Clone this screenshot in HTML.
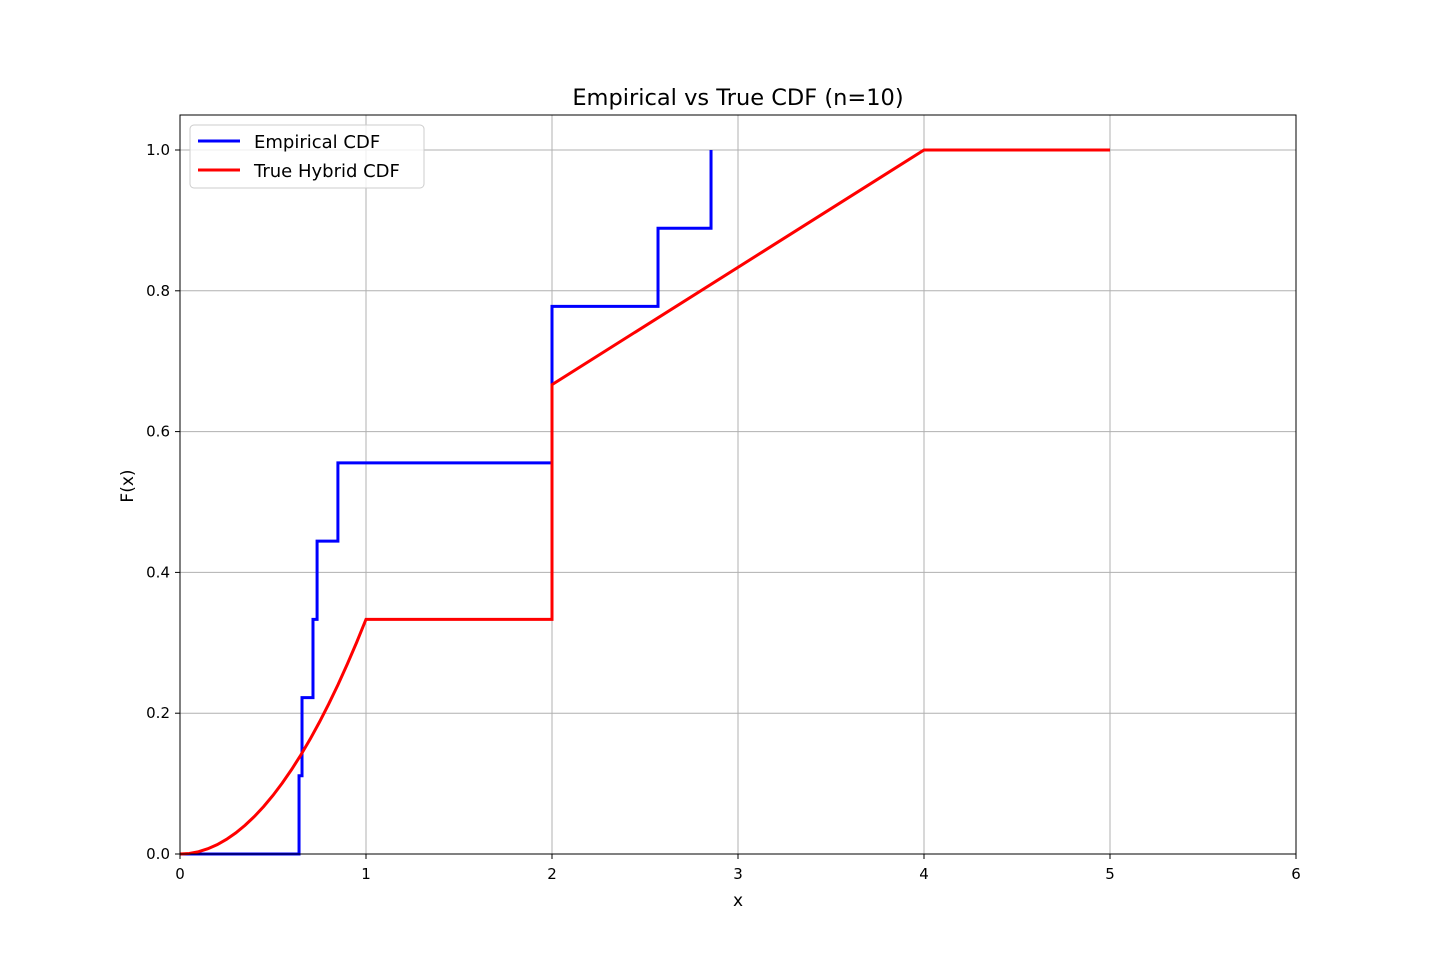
<!DOCTYPE html>
<html><head><meta charset="utf-8"><style>
html,body{margin:0;padding:0;background:#fff;}
svg{display:block;font-family:"DejaVu Sans","Liberation Sans",sans-serif;}
</style></head><body>
<svg id="chart" width="1440" height="960" xmlns="http://www.w3.org/2000/svg">
<rect x="0" y="0" width="1440" height="960" fill="#fff"/>
<g id="grid"></g>
<g id="series"></g>
<rect x="180" y="115" width="1116" height="739" fill="none" stroke="#000" stroke-width="1"/>
<g id="ticks"></g>
<text x="738" y="105" text-anchor="middle" font-size="22.5">Empirical vs True CDF (n=10)</text>
<text x="738" y="906" text-anchor="middle" font-size="17">x</text>
<text x="133" y="486" text-anchor="middle" font-size="17" transform="rotate(-90 133 486)">F(x)</text>
<g>
<rect x="190" y="125" width="234" height="63" rx="4" fill="#fff" fill-opacity="0.8" stroke="#ccc"/>
<line x1="198" y1="141" x2="240" y2="141" stroke="#0000ff" stroke-width="3"/>
<text x="254" y="148" font-size="18">Empirical CDF</text>
<line x1="198" y1="170" x2="240" y2="170" stroke="#ff0000" stroke-width="3"/>
<text x="254" y="177" font-size="18">True Hybrid CDF</text>
</g>
</svg>
<script>
const xTicks=[0,1,2,3,4,5,6];
const yTicks=[0,0.2,0.4,0.6,0.8,1.0];
const yTickLabels=["0.0","0.2","0.4","0.6","0.8","1.0"];
const empX=[0,0.64,0.656,0.715,0.737,0.849,2.0,2.57,2.855];
const empY=[0,0.1111,0.2222,0.3333,0.4444,0.5556,0.7778,0.8889,1.0];
const trueX=[0,0.05,0.1,0.15,0.2,0.25,0.3,0.35,0.4,0.45,0.5,0.55,0.6,0.65,0.7,0.75,0.8,0.85,0.9,0.95,1.0,2.0,2.0,4.0,5.0];
const trueY=[0,0.0008,0.0033,0.0075,0.0133,0.0208,0.03,0.0408,0.0533,0.0675,0.0833,0.1008,0.12,0.1408,0.1633,0.1875,0.2133,0.2408,0.27,0.3008,0.3333,0.3333,0.6667,1.0,1.0];
const NS="http://www.w3.org/2000/svg";
const sx=v=>180+v*186, sy=v=>854-v*704;
const grid=document.getElementById('grid'), ticks=document.getElementById('ticks'), series=document.getElementById('series');
function mk(tag,attrs,parent){const e=document.createElementNS(NS,tag);for(const k in attrs)e.setAttribute(k,attrs[k]);parent.appendChild(e);return e;}
xTicks.forEach(t=>{
 const g=mk('line',{x1:sx(t),x2:sx(t),y1:115,y2:854,stroke:'#b0b0b0','stroke-width':1},grid);
 
 
 const tk=mk('line',{x1:sx(t),x2:sx(t),y1:854,y2:859,stroke:'#000'},ticks);
 
 
 const tx=mk('text',{x:sx(t),y:879,'text-anchor':'middle','font-size':15},ticks);tx.textContent=t;
 
 
});
yTicks.forEach((t,i)=>{
 const g=mk('line',{x1:180,x2:1296,y1:sy(t),y2:sy(t),stroke:'#b0b0b0','stroke-width':1},grid);
 
 
 const tk=mk('line',{x1:175,x2:180,y1:sy(t),y2:sy(t),stroke:'#000'},ticks);
 
 
 const tx=mk('text',{x:170,y:sy(t)+5,'text-anchor':'end','font-size':15},ticks);tx.textContent=yTickLabels[i];
 
 
});
let d='M'+sx(empX[0])+' '+sy(empY[0]);
for(let i=1;i<empX.length;i++){d+=' L'+sx(empX[i])+' '+sy(empY[i-1])+' L'+sx(empX[i])+' '+sy(empY[i]);}
const ep=mk('path',{d:d,fill:'none',stroke:'#0000ff','stroke-width':3},series);


const tp=mk('path',{d:trueX.map((x,i)=>(i?'L':'M')+sx(x)+' '+sy(trueY[i])).join(' '),fill:'none',stroke:'#ff0000','stroke-width':3},series);


</script>
</body></html>
